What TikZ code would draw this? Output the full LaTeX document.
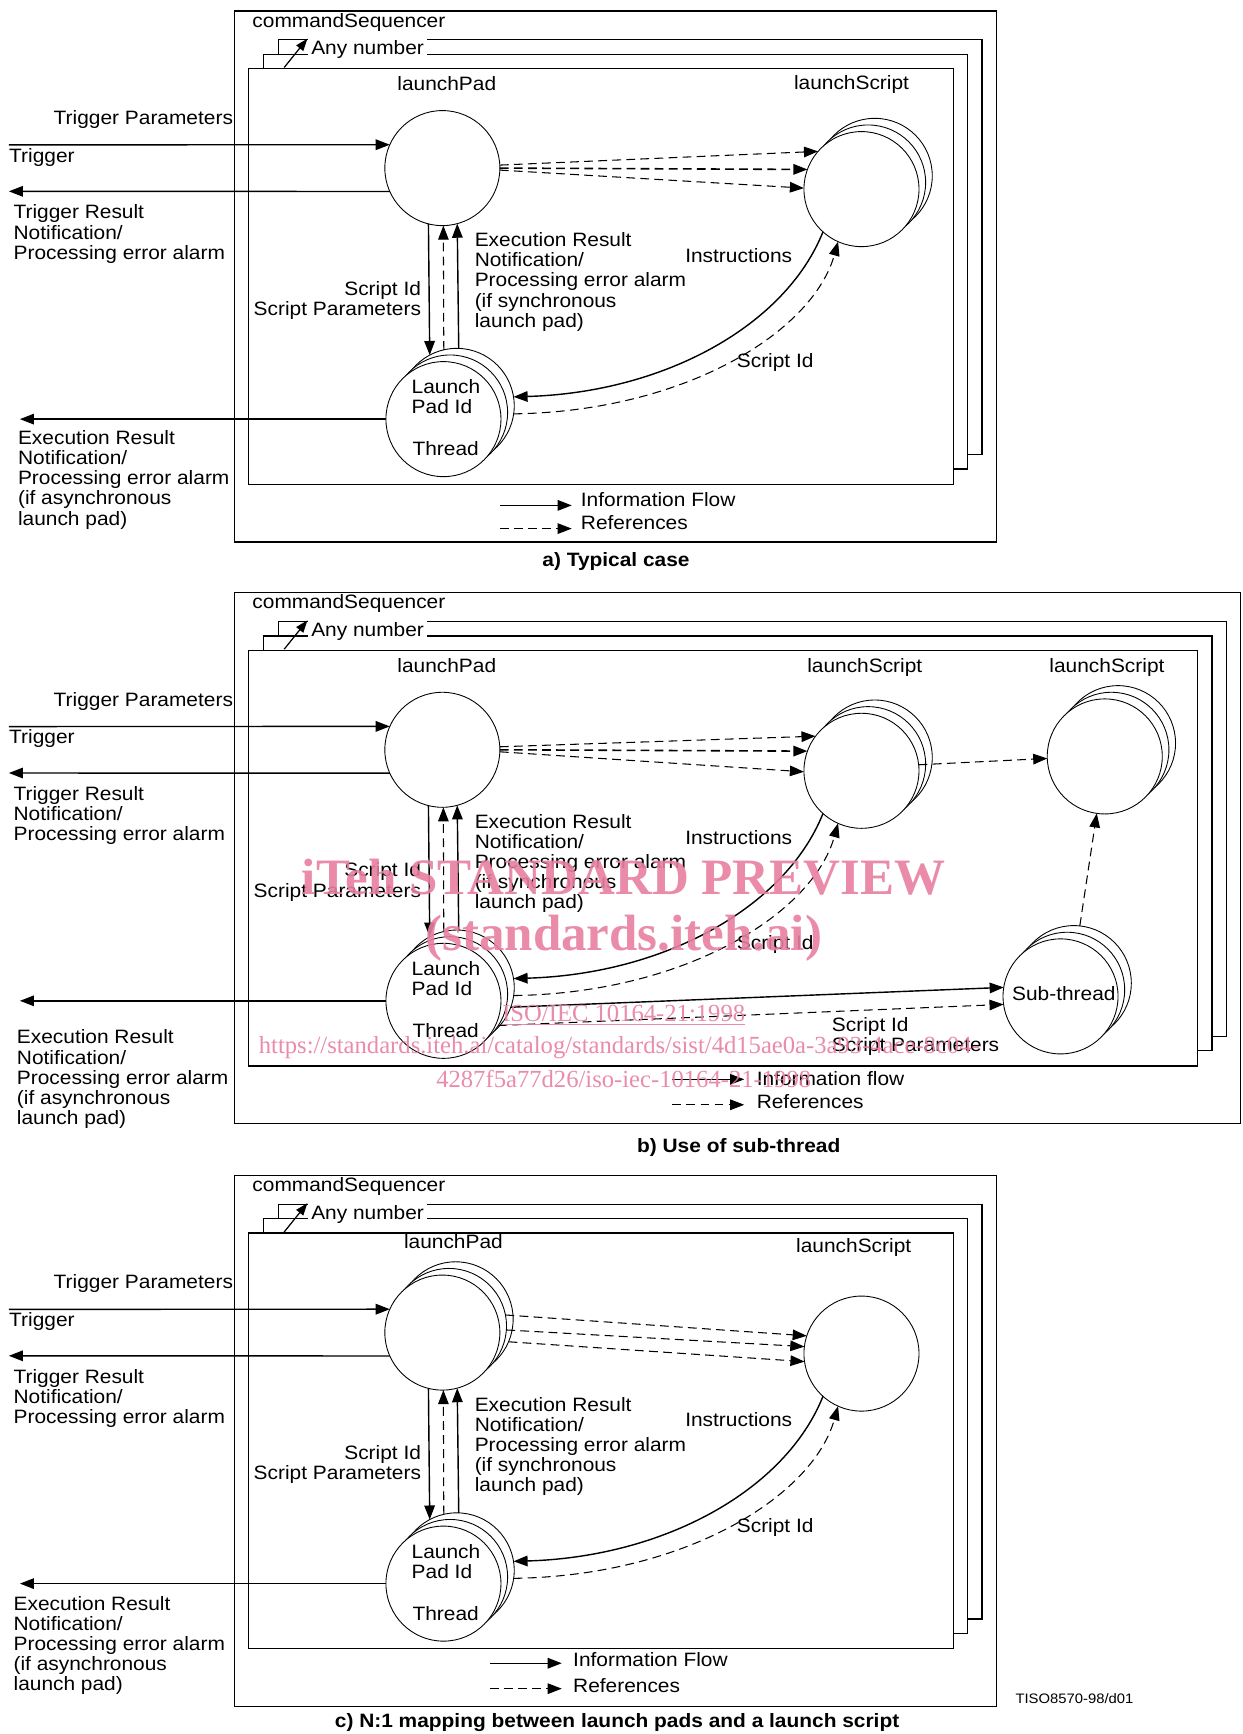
\documentclass[tikz,border=0pt]{standalone}
\usepackage{fontspec}
\setmainfont{Liberation Sans}[FakeStretch=1.08]
\newfontfamily\wmfont{Liberation Serif}
\usetikzlibrary{arrows.meta}
\definecolor{wmpink}{RGB}{232,128,160}
\tikzset{
  inst/.style={circle,draw,fill=white,line width=0.5pt,minimum size=65.4pt,inner sep=0pt,outer sep=0pt},
  boxframe/.style={draw,fill=white,line width=0.7pt},
  infoflow/.style={-{Triangle[length=8pt,width=6pt]},line width=0.8pt},
  refflow/.style={infoflow,line width=0.6pt,dash pattern=on 5pt off 3pt},
  txt/.style={inner sep=0pt,align=left},
  capt/.style={inner sep=0pt,font=\fontsize{11}{13}\selectfont\bfseries},
}
\begin{document}
\begin{tikzpicture}[x=0.0221cm,y=-0.0221cm,font=\fontsize{11}{11.45}\selectfont]
  \useasboundingbox (0,0) rectangle (1124,1568);
  % frames of the three cases
  \foreach \p/\dy/\r in {a/0/888,b/526/1109,c/1053/888}{
    \begin{scope}[shift={(0,\dy)}]
      \draw[line width=0.7pt] (212,10) rectangle (\r+13,490);
      \draw[boxframe] (252,36) rectangle (\r,411);
      \draw[boxframe] (238,49) rectangle (\r-13,424);
      \draw[boxframe] (225,62) rectangle (\r-26,438);
      \node[txt,anchor=west] (cs\p) at (228,20) {commandSequencer};
      \node[fill=white,inner xsep=2pt,inner ysep=1pt,anchor=west] (any\p) at (278,45) {Any number};
      \coordinate (anyft\p) at (257,61);
      \draw[-{Triangle[length=7pt,width=5pt]},line width=0.7pt] (anyft\p) -- (any\p.north west);
    \end{scope}
  }
  % instances lying behind the front ones
  \node[inst] (lsCa) at (791,159) {};
  \node[inst] (lsBa) at (785,165) {};
  \begin{scope}[shift={(0,526)}]
    \node[inst] (lsCb) at (791,159) {};
    \node[inst] (lsBb) at (785,165) {};
    \node[inst] (ls2C) at (1011,146) {};
    \node[inst] (ls2B) at (1005,152) {};
    \node[inst] (ls2) at (999,158) {};
    \node[inst] (subC) at (971,363) {};
    \node[inst] (subB) at (965,369) {};
    \node[inst] (sub) at (959,375) {};
  \end{scope}
  \begin{scope}[shift={(0,1053)}]
    \node[inst] (padCc) at (412,140) {};
    \node[inst] (padBc) at (406,146) {};
  \end{scope}
  % what all three cases share
  \foreach \p/\dy/\ex/\ey in {a/0/16/396,b/526/15/412,c/1053/12/397}{
    \begin{scope}[shift={(0,\dy)}]
      \node[inst] (thrC\p) at (413,367) {};
      \node[inst] (thrB\p) at (407,373) {};
      \node[inst] (thr\p) at (401,379) {};
      \node[inst] (pad\p) at (400,152) {};
      \node[inst] (ls\p) at (779,171) {};
      \node[txt,anchor=north west] (lpid\p) at (372,343) {Launch\\Pad Id};
      \node[txt] (thl\p) at (403,406) {Thread};
      \node[txt,anchor=east] (tpar\p) at (211,108) {Trigger Parameters};
      \node[txt,anchor=west] (trig\p) at (8,142) {Trigger};
      \node[txt,anchor=north west] (tres\p) at (12,185) {Trigger Result\\Notification/\\Processing error alarm};
      \node[txt,anchor=north west] (eres\p) at (\ex,\ey-7) {Execution Result\\Notification/\\Processing error alarm\\(if asynchronous\\launch pad)};
      \node[txt,anchor=north east,align=right] (spar\p) at (381,254) {Script Id\\Script Parameters};
      \node[txt,anchor=north west] (sres\p) at (429,210) {Execution Result\\Notification/\\Processing error alarm\\(if synchronous\\launch pad)};
      \node[txt] (instr\p) at (668,231) {Instructions};
      \node[txt] (sid\p) at (701,328) {Script Id};
      \coordinate (tin\p) at (8,131);
      \coordinate (tout\p) at (8,173);
      \coordinate (eout\p) at (18,379);
      \draw[infoflow] (tin\p) -- (pad\p.156);
      \draw[infoflow] (pad\p.204) -- (tout\p);
      \draw[infoflow] (thr\p.west) -- (eout\p);
      \draw[infoflow] (pad\p.256.6) -- (thrC\p.118.7);
      \draw[refflow] (thrC\p.103.3) -- (pad\p.271.1);
      \draw[infoflow] (thrC\p.88.9) -- (pad\p.285.6);
      \draw[infoflow] (ls\p.228.7) .. controls (710,295) and (600,355) .. (thrC\p.9);
      \draw[refflow] (thrC\p.-8) .. controls (620,372) and (735,300) .. (ls\p.246.7);
    \end{scope}
  }
  % a) typical case
  \node[txt] (lpada) at (404,76) {launchPad};
  \node[txt] (lscra) at (770,76) {launchScript};
  \draw[refflow] (pada.3) -- (lsa.139);
  \draw[refflow,line width=0.9pt] (pada.0) -- (lsa.160);
  \draw[refflow] (pada.-2) -- (lsa.179);
  \coordinate (fla0) at (452,457); \coordinate (fla1) at (517,457);
  \coordinate (rfa0) at (452,478); \coordinate (rfa1) at (517,478);
  \draw[infoflow] (fla0) -- (fla1);
  \draw[refflow] (rfa0) -- (rfa1);
  \node[txt,anchor=west] (flta) at (525,452) {Information Flow};
  \node[txt,anchor=west] (rfta) at (525,473) {References};
  \node[capt] (capa) at (557,508) {a) Typical case};
  % b) use of sub-thread
  \begin{scope}[shift={(0,526)}]
    \node[txt] (lpadb) at (404,76) {launchPad};
    \node[txt] (lscrb) at (782,78) {launchScript};
    \node[txt] (lscr2) at (1001,78) {launchScript};
    \node[txt] (subl) at (962,372) {Sub-thread};
    \draw[refflow] (padb.3) -- (lsb.143);
    \draw[refflow,line width=0.9pt] (padb.0) -- (lsb.160);
    \draw[refflow] (padb.-2) -- (lsb.181);
    \draw[refflow] (lsb.6) -- (ls2.182);
    \draw[refflow] (subC.84.5) -- (ls2.262.7);
    \draw[infoflow] (thrCb.-20) -- (sub.171);
    \draw[refflow] (thrBb.-33) -- (sub.188);
    \node[txt,anchor=north west] (spars) at (752,394) {Script Id\\Script Parameters};
    \coordinate (flb0) at (608,450); \coordinate (flb1) at (673,450);
    \coordinate (rfb0) at (608,473); \coordinate (rfb1) at (673,473);
    \draw[infoflow] (flb0) -- (flb1);
    \draw[refflow] (rfb0) -- (rfb1);
    \node[txt,anchor=west] (fltb) at (684,449) {Information flow};
    \node[txt,anchor=west] (rftb) at (684,470) {References};
    \node[capt] (capb) at (668,512) {b) Use of sub-thread};
  \end{scope}
  % c) N:1 mapping
  \begin{scope}[shift={(0,1053)}]
    \node[txt] (lpadc) at (410,70) {launchPad};
    \node[txt] (lscrc) at (772,75) {launchScript};
    \draw[refflow] (padBc.11) -- (lsc.162);
    \draw[refflow] (padBc.-4) -- (lsc.173);
    \draw[refflow] (padCc.-23) -- (lsc.188);
    \coordinate (flc0) at (443,451); \coordinate (flc1) at (508,451);
    \coordinate (rfc0) at (443,474); \coordinate (rfc1) at (508,474);
    \draw[infoflow] (flc0) -- (flc1);
    \draw[refflow] (rfc0) -- (rfc1);
    \node[txt,anchor=west] (fltc) at (518,448) {Information Flow};
    \node[txt,anchor=west] (rftc) at (518,471) {References};
    \node[capt] (capc) at (558,505) {c) N:1 mapping between launch pads and a launch script};
    \node[txt,anchor=west,font=\fontsize{7.8}{9}\selectfont] (tiso) at (918,483) {TISO8570-98/d01};
  \end{scope}
  % watermark
  \begin{scope}[every node/.style={text=wmpink,text opacity=0.9,inner sep=0pt}]
    \node[font=\wmfont\bfseries\fontsize{29}{30}\selectfont] (wm1) at (564,793) {iTeh STANDARD PREVIEW};
    \node[font=\wmfont\bfseries\fontsize{29}{30}\selectfont] (wm2) at (564,848) {(standards.iteh.ai)};
    \node[font=\wmfont\fontsize{14}{16}\selectfont] (wm3) at (564,918) {\underline{ISO/IEC 10164-21:1998}};
    \node[font=\wmfont\fontsize{14}{16}\selectfont] (wm4) at (560,947) {https://standards.iteh.ai/catalog/standards/sist/4d15ae0a-3a93-4ace-8c04-};
    \node[font=\wmfont\fontsize{14}{16}\selectfont] (wm5) at (564,976) {4287f5a77d26/iso-iec-10164-21-1998};
  \end{scope}
\end{tikzpicture}
\end{document}
